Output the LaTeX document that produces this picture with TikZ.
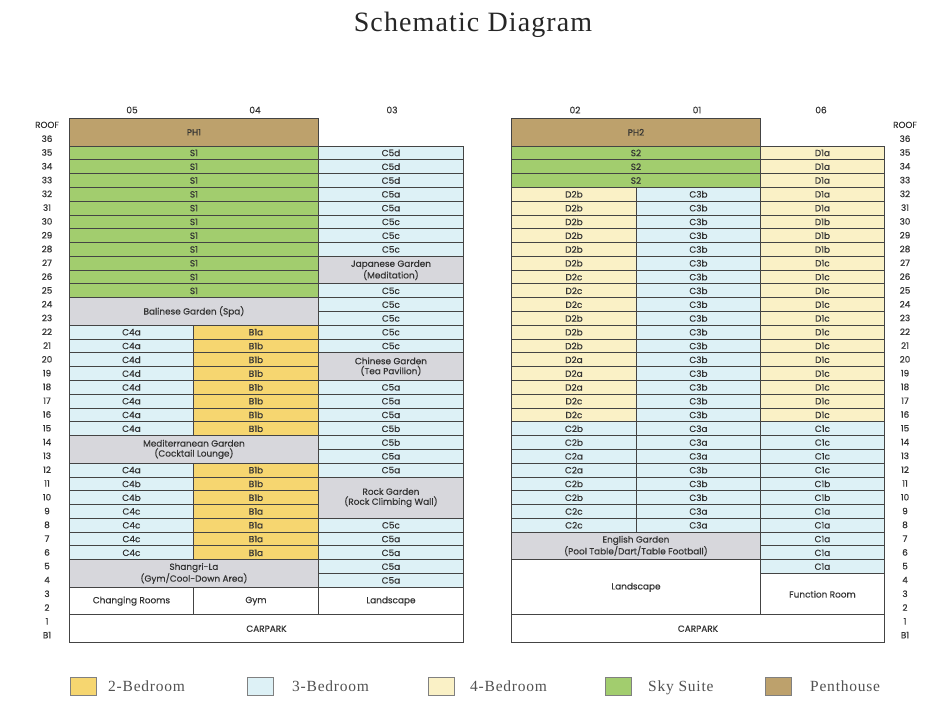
\documentclass[tikz,border=0pt]{standalone}
\usepackage{fontspec}
\setmainfont{Liberation Serif}
\newfontfamily\cellfont[FakeBold=0.4]{Poppins}
\newfontfamily\titlefont[LetterSpace=4]{Liberation Serif}
\newfontfamily\legfont[LetterSpace=5]{Liberation Serif}
\definecolor{phc}{HTML}{BDA16C}
\definecolor{skyc}{HTML}{A2CD6E}
\definecolor{twoc}{HTML}{F6D670}
\definecolor{threec}{HTML}{DDF1F6}
\definecolor{fourc}{HTML}{FAF1C6}
\definecolor{gardenc}{HTML}{D7D7DC}
\definecolor{gridc}{HTML}{444444}
\definecolor{txtc}{HTML}{333333}
\def\rh{13.79}
\def\cellat#1#2#3#4#5#6#7{%
  \node[cell,#6,minimum width={(#3-#2)*1pt},minimum height={#5*\rh*1pt},anchor=north west]
    (#1) at (#2,{118+(37-#4)*\rh}) {#7};}
\begin{document}
\begin{tikzpicture}[x=1pt,y=-1pt,
  cell/.style={draw=gridc,line width=0.9pt,inner sep=0pt,align=center,text=txtc,
    font=\cellfont\fontsize{8.9}{10}\selectfont},
  ph/.style={fill=phc}, sky/.style={fill=skyc}, two/.style={fill=twoc},
  three/.style={fill=threec}, four/.style={fill=fourc}, garden/.style={fill=gardenc},
  plain/.style={fill=white},
  flabel/.style={text=txtc,font=\cellfont\fontsize{8.8}{9}\selectfont,inner sep=0pt},
  head/.style={text=txtc,font=\cellfont\fontsize{9}{9}\selectfont,inner sep=0pt},
  swatch/.style={draw=gray,line width=0.6pt,minimum width=26pt,minimum height=18pt,inner sep=0pt},
  legtext/.style={text=txtc!85,font=\legfont\fontsize{15.5}{17}\selectfont,anchor=base west,inner sep=0pt}]
\useasboundingbox (0,0) rectangle (943,717);
\fill[white] (0,0) rectangle (943,717);
% title
\node[font=\titlefont\fontsize{28}{30}\selectfont,text=black!85] (title) at (473,25) {Schematic Diagram};
% headers
\node[head] (h05) at (132,110) {05};
\node[head] (h04) at (255,110) {04};
\node[head] (h03) at (392,110) {03};
\node[head] (h02) at (575,110) {02};
\node[head] (h01) at (697,110) {01};
\node[head] (h06) at (821,110) {06};
% floor labels
\foreach \t [count=\i] in {ROOF,36,35,34,33,32,31,30,29,28,27,26,25,24,23,22,21,20,19,18,17,16,15,14,13,12,11,10,9,8,7,6,5,4,3,2,1,B1}{
  \node[flabel] (lL\i) at (47,{118+(\i-0.5)*\rh}) {\t};
  \node[flabel] (lR\i) at (905,{118+(\i-0.5)*\rh}) {\t};
}
% ---------- left block ----------
\cellat{PH1}{69}{318}{37}{2}{ph}{PH1}
\foreach \f in {35,34,...,25}{\cellat{S1-\f}{69}{318}{\f}{1}{sky}{S1}}
\cellat{bali}{69}{318}{24}{2}{garden}{Balinese Garden (Spa)}
\foreach \f/\t in {22/C4a,21/C4a,20/C4d,19/C4d,18/C4d,17/C4a,16/C4a,15/C4a,12/C4a,11/C4b,10/C4b,9/C4c,8/C4c,7/C4c,6/C4c}{
  \cellat{a05-\f}{69}{193}{\f}{1}{three}{\t}}
\foreach \f/\t in {22/B1a,21/B1b,20/B1b,19/B1b,18/B1b,17/B1b,16/B1b,15/B1b,12/B1b,11/B1b,10/B1b,9/B1a,8/B1a,7/B1a,6/B1a}{
  \cellat{a04-\f}{193}{318}{\f}{1}{two}{\t}}
\cellat{medi}{69}{318}{14}{2}{garden}{Mediterranean Garden\\(Cocktail Lounge)}
\cellat{shangri}{69}{318}{5}{2}{garden}{Shangri-La\\(Gym/Cool-Down Area)}
\cellat{chg}{69}{193}{3}{2}{plain}{Changing Rooms}
\cellat{gym}{193}{318}{3}{2}{plain}{Gym}
\foreach \f/\t in {35/C5d,34/C5d,33/C5d,32/C5a,31/C5a,30/C5c,29/C5c,28/C5c,25/C5c,24/C5c,23/C5c,22/C5c,21/C5c,18/C5a,17/C5a,16/C5a,15/C5b,14/C5b,13/C5a,12/C5a,8/C5c,7/C5a,6/C5a,5/C5a,4/C5a}{
  \cellat{a03-\f}{318}{463}{\f}{1}{three}{\t}}
\cellat{japan}{318}{463}{27}{2}{garden}{Japanese Garden\\(Meditation)}
\cellat{china}{318}{463}{20}{2}{garden}{Chinese Garden\\(Tea Pavilion)}
\cellat{rock}{318}{463}{11}{3}{garden}{Rock Garden\\(Rock Climbing Wall)}
\cellat{landL}{318}{463}{3}{2}{plain}{Landscape}
\cellat{carL}{69}{463}{1}{2}{plain}{CARPARK}
% ---------- right block ----------
\cellat{PH2}{511}{760}{37}{2}{ph}{PH2}
\foreach \f in {35,34,33}{\cellat{S2-\f}{511}{760}{\f}{1}{sky}{S2}}
\foreach \f/\t in {32/D2b,31/D2b,30/D2b,29/D2b,28/D2b,27/D2b,26/D2c,25/D2c,24/D2c,23/D2b,22/D2b,21/D2b,20/D2a,19/D2a,18/D2a,17/D2c,16/D2c}{
  \cellat{b02-\f}{511}{636}{\f}{1}{four}{\t}}
\foreach \f/\t in {15/C2b,14/C2b,13/C2a,12/C2a,11/C2b,10/C2b,9/C2c,8/C2c}{
  \cellat{b02-\f}{511}{636}{\f}{1}{three}{\t}}
\foreach \f/\t in {32/C3b,31/C3b,30/C3b,29/C3b,28/C3b,27/C3b,26/C3b,25/C3b,24/C3b,23/C3b,22/C3b,21/C3b,20/C3b,19/C3b,18/C3b,17/C3b,16/C3b,15/C3a,14/C3a,13/C3a,12/C3b,11/C3b,10/C3b,9/C3a,8/C3a}{
  \cellat{b01-\f}{636}{760}{\f}{1}{three}{\t}}
\foreach \f/\t in {35/D1a,34/D1a,33/D1a,32/D1a,31/D1a,30/D1b,29/D1b,28/D1b,27/D1c,26/D1c,25/D1c,24/D1c,23/D1c,22/D1c,21/D1c,20/D1c,19/D1c,18/D1c,17/D1c,16/D1c}{
  \cellat{b06-\f}{760}{884}{\f}{1}{four}{\t}}
\foreach \f/\t in {15/C1c,14/C1c,13/C1c,12/C1c,11/C1b,10/C1b,9/C1a,8/C1a,7/C1a,6/C1a,5/C1a}{
  \cellat{b06-\f}{760}{884}{\f}{1}{three}{\t}}
\cellat{english}{511}{760}{7}{2}{garden}{English Garden\\(Pool Table/Dart/Table Football)}
\cellat{landR}{511}{760}{5}{4}{plain}{Landscape}
\cellat{func}{760}{884}{4}{3}{plain}{Function Room}
\cellat{carR}{511}{884}{1}{2}{plain}{CARPARK}
% ---------- legend ----------
\node[swatch,fill=twoc] (k2) at (83,686) {};
\node[legtext] (t2) at (108,691) {2-Bedroom};
\node[swatch,fill=threec] (k3) at (260,686) {};
\node[legtext] (t3) at (292,691) {3-Bedroom};
\node[swatch,fill=fourc] (k4) at (441,686) {};
\node[legtext] (t4) at (470,691) {4-Bedroom};
\node[swatch,fill=skyc] (ks) at (618,686) {};
\node[legtext] (ts) at (648,691) {Sky Suite};
\node[swatch,fill=phc] (kp) at (778,686) {};
\node[legtext] (tp) at (810,691) {Penthouse};
\end{tikzpicture}
\end{document}
